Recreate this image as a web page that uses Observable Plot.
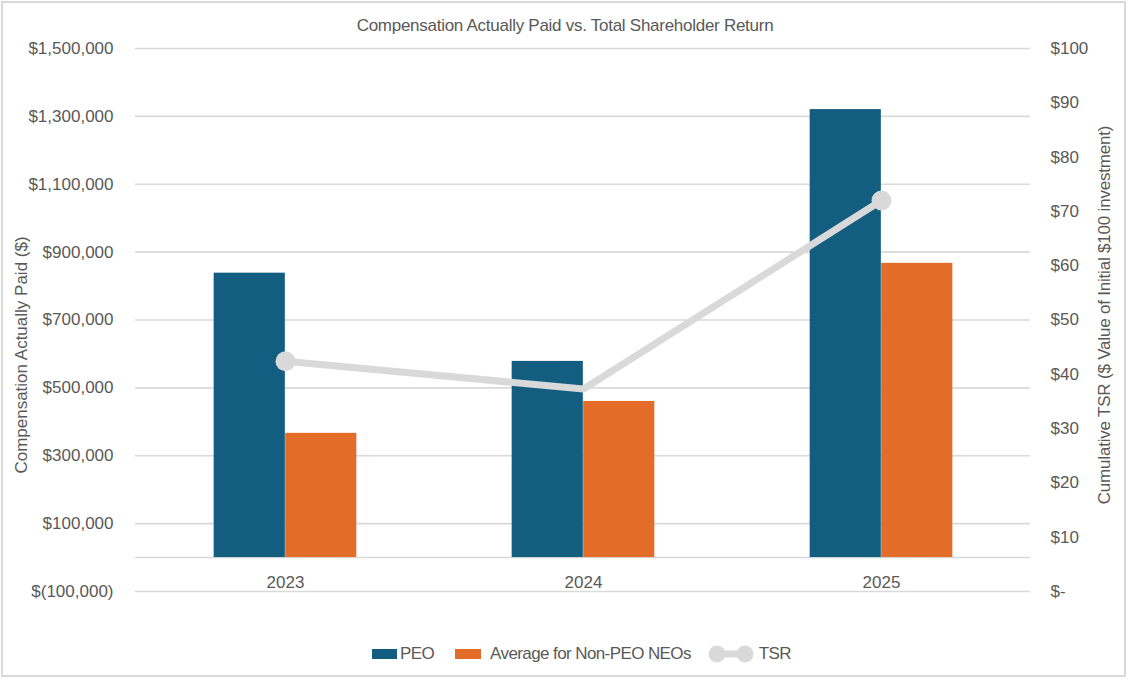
<!DOCTYPE html>
<html>
<head>
<meta charset="utf-8">
<script src="https://cdn.jsdelivr.net/npm/d3@7"></script>
<script src="https://cdn.jsdelivr.net/npm/@observablehq/plot@0.6"></script>
<style>
  body { margin: 0; background: #fff; font-family: "Liberation Sans", Arial, sans-serif; color: #595959; }
  #wrap { position: relative; width: 1128px; height: 680px; overflow: hidden; }
  #frame { position: absolute; left: 1px; top: 1px; width: 1125px; height: 676px; border: 2px solid #d9d9d9; box-sizing: border-box; }
  #title { position: absolute; left: 0; width: 1130px; top: 17px; text-align: center; font-size: 17px; line-height: 17px; letter-spacing: -0.27px; white-space: nowrap; }
  .ytitle { position: absolute; font-size: 17px; line-height: 17px; white-space: nowrap; transform: translate(-50%, -50%) rotate(-90deg); }
  #chart { position: absolute; left: 0; top: 0; }
  #legend { position: absolute; left: 372px; top: 644px; height: 20px; display: flex; align-items: center; font-size: 17px; letter-spacing: -0.6px; white-space: nowrap; }
  .sw { width: 25px; height: 10px; display: inline-block; }
</style>
</head>
<body>
<div id="wrap">
  <div id="frame"></div>
  <div id="chart"></div>
  <div id="title">Compensation Actually Paid vs. Total Shareholder Return</div>
  <div class="ytitle" style="left:21px; top:355px;">Compensation Actually Paid ($)</div>
  <div class="ytitle" style="left:1104px; top:315px; letter-spacing:-0.2px;">Cumulative TSR ($ Value of Initial $100 investment)</div>
  <div id="legend"></div>
</div>
<script>
// ---- data ----
const years = ["2023", "2024", "2025"];
const peoValues = [838000, 578000, 1320000];
const nonPeoValues = [366000, 460000, 867000];
const tsrValues = [42.4, 37.3, 72.0];
const leftTicks = [-100000, 100000, 300000, 500000, 700000, 900000, 1100000, 1300000, 1500000];
const rightTicks = [0, 10, 20, 30, 40, 50, 60, 70, 80, 90, 100];
const seriesNames = ["PEO", "Average for Non-PEO NEOs", "TSR"];
const tsrMarkerYears = ["2023", "2025"];

// ---- styling ----
const BLUE = "#135e80";
const ORANGE = "#e46c29";
const GRAY = "#d9d9d9";
const TEXT = "#595959";

const peoData = years.map((y, i) => ({year: y, value: peoValues[i]}));
const nonPeoData = years.map((y, i) => ({year: y, value: nonPeoValues[i]}));
const tsrData = years.map((y, i) => ({year: y, value: tsrValues[i]}));

// right axis (0..100) mapped onto the left scale (-100,000..1,500,000)
const L0 = -100000, L1 = 1500000, R0 = 0, R1 = 100;
const toLeft = v => L0 + (v - R0) * (L1 - L0) / (R1 - R0);
const fromLeft = v => R0 + (v - L0) * (R1 - R0) / (L1 - L0);

const fmtN = d3.format(",");
const leftFmt = v => v < 0 ? "$(" + fmtN(-v) + ")" : "$" + fmtN(v);
const rightFmt = v => { const t = Math.round(fromLeft(v)); return t === 0 ? "$-" : "$" + t; };

const W = 1128, H = 620;
const mL = 135, mR = 98, mT = 48, mB = 29;
const band = (W - mL - mR) / years.length;
const barW = 71.5;

const chart = Plot.plot({
  width: W,
  height: H,
  marginLeft: mL,
  marginRight: mR,
  marginTop: mT,
  marginBottom: mB,
  style: {fontFamily: '"Liberation Sans", Arial, sans-serif', fontSize: "17px", color: TEXT, background: "transparent", overflow: "visible"},
  x: {type: "band", domain: years, padding: 0, axis: null},
  y: {domain: [L0, L1], axis: null},
  marks: [
    Plot.gridY(leftTicks, {stroke: GRAY, strokeOpacity: 1, strokeWidth: 1.6}),
    Plot.ruleY([0], {stroke: GRAY, strokeOpacity: 1, strokeWidth: 1.6}),
    Plot.barY(peoData, {x: "year", y: "value", fill: BLUE, insetLeft: band / 2 - barW, insetRight: band / 2}),
    Plot.barY(nonPeoData, {x: "year", y: "value", fill: ORANGE, insetLeft: band / 2, insetRight: band / 2 - barW}),
    Plot.line(tsrData, {x: "year", y: d => toLeft(d.value), stroke: GRAY, strokeWidth: 7}),
    Plot.dot(tsrData.filter(d => tsrMarkerYears.includes(d.year)), {x: "year", y: d => toLeft(d.value), r: 10, fill: GRAY, stroke: null}),
    Plot.axisY(leftTicks, {anchor: "left", tickSize: 0, tickPadding: 22, tickFormat: leftFmt, label: null}),
    Plot.axisY(rightTicks.map(toLeft), {anchor: "right", tickSize: 0, tickPadding: 20, tickFormat: rightFmt, label: null}),
    Plot.axisX(years, {anchor: "bottom", tickSize: 0, tickPadding: 0, dy: -16, label: null})
  ]
});
document.getElementById("chart").appendChild(chart);

// ---- legend ----
const legend = document.getElementById("legend");
legend.innerHTML =
  `<span class="sw" style="background:${BLUE}"></span>` +
  `<span style="margin-left:3px">${seriesNames[0]}</span>` +
  `<span class="sw" style="background:${ORANGE}; width:26px; margin-left:21px"></span>` +
  `<span style="margin-left:9px">${seriesNames[1]}</span>` +
  `<svg width="46" height="20" style="margin-left:17px"><line x1="9" y1="10" x2="37" y2="10" stroke="${GRAY}" stroke-width="7"/><circle cx="9" cy="10" r="8.5" fill="${GRAY}"/><circle cx="37" cy="10" r="8.5" fill="${GRAY}"/></svg>` +
  `<span style="margin-left:5px">${seriesNames[2]}</span>`;
</script>
</body>
</html>
